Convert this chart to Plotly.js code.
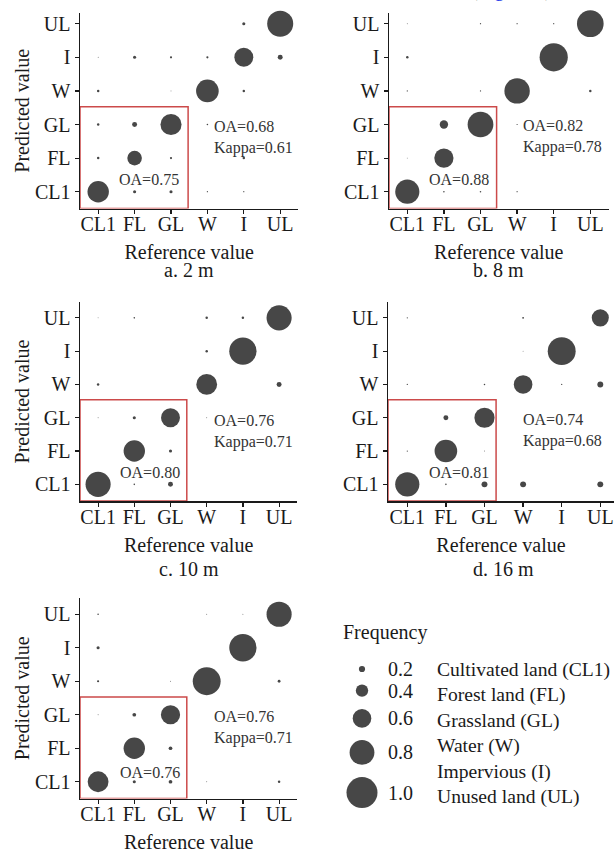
<!DOCTYPE html>
<html><head><meta charset="utf-8">
<script src="https://cdn.plot.ly/plotly-3.0.1.min.js"></script>
<style>html,body{margin:0;padding:0;background:#fff}#chart{width:614px;height:853px}</style>
</head><body><div id="chart"></div>
<script>
const categories = ['CL1','FL','GL','W','I','UL'];
// rows = predicted class (CL1..UL, bottom to top), columns = reference class (CL1..UL)
const freq2m = [
  [0.69, 0.10, 0.10, 0.04, 0.04, 0],
  [0.08, 0.47, 0.07, 0, 0.08, 0],
  [0.08, 0.16, 0.68, 0.05, 0, 0],
  [0.08, 0, 0.03, 0.73, 0.08, 0],
  [0.03, 0.10, 0.07, 0.07, 0.61, 0.16],
  [0, 0, 0, 0, 0.10, 0.84]
];
const freq8m = [
  [0.78, 0.05, 0.05, 0.04, 0, 0],
  [0.03, 0.62, 0, 0, 0, 0],
  [0, 0.27, 0.83, 0.04, 0, 0],
  [0.04, 0, 0.04, 0.82, 0, 0.08],
  [0.08, 0, 0, 0, 0.91, 0],
  [0.03, 0, 0.04, 0.04, 0.04, 0.86]
];
const freq10m = [
  [0.81, 0.05, 0.16, 0, 0, 0],
  [0, 0.69, 0.10, 0, 0, 0],
  [0.03, 0.10, 0.61, 0.03, 0, 0],
  [0.08, 0, 0, 0.67, 0, 0.16],
  [0, 0, 0, 0.08, 0.88, 0],
  [0.03, 0.05, 0, 0.08, 0.08, 0.81]
];
const freq16m = [
  [0.78, 0.05, 0.19, 0.19, 0, 0.19],
  [0.04, 0.73, 0.03, 0, 0, 0],
  [0, 0.16, 0.65, 0, 0, 0],
  [0.04, 0, 0.05, 0.60, 0.04, 0.19],
  [0, 0, 0, 0.03, 0.90, 0],
  [0.04, 0, 0, 0.06, 0, 0.55]
];
const freqE = [
  [0.67, 0.10, 0.12, 0.03, 0, 0.08],
  [0, 0.69, 0.12, 0, 0, 0],
  [0.03, 0.12, 0.62, 0, 0, 0],
  [0.07, 0, 0.03, 0.90, 0, 0.09],
  [0.10, 0, 0, 0, 0.88, 0],
  [0.05, 0, 0, 0.03, 0.03, 0.81]
];
const panelNames = ['a. 2 m', 'b. 8 m', 'c. 10 m', 'd. 16 m', ''];
const oaInner = ['0.75', '0.88', '0.80', '0.81', '0.76'];
const oaOverall = ['0.68', '0.82', '0.76', '0.74', '0.76'];
const kappaValues = ['0.61', '0.78', '0.71', '0.68', '0.71'];
const legendValues = [0.2, 0.4, 0.6, 0.8, 1.0];
const legendClassNames = ['Cultivated land (CL1)', 'Forest land (FL)', 'Grassland (GL)', 'Water (W)', 'Impervious (I)', 'Unused land (UL)'];

const matrices = [freq2m, freq8m, freq10m, freq16m, freqE];

// ---------- layout geometry (pixels) ----------
const W = 614, H = 853;
const FONT = 'Liberation Serif, Times New Roman, serif';
const DOT = '#474747';
const INK = '#1a1a1a';
const RED = '#cc4a4a';
const PX_PER_UNIT = 31; // marker diameter (px) for frequency 1.0
const geom = [
  {left: 80,  px: 36.4, top: 13,  bottom: 208.5, py: 33.6, boxX: 2.47, boxY: 2.53, ytitle: true,  labelOff: 61, inner: [1.40, 0.36], overall: [3.13, 1.62]},
  {left: 389, px: 36.6, top: 13,  bottom: 208.5, py: 33.6, boxX: 2.44, boxY: 2.53, ytitle: false, labelOff: 61, inner: [1.41, 0.36], overall: [3.11, 1.64]},
  {left: 80,  px: 36.2, top: 302, bottom: 501,   py: 33.3, boxX: 2.45, boxY: 2.54, ytitle: true,  labelOff: 68, inner: [1.44, 0.35], overall: [3.14, 1.60]},
  {left: 388, px: 38.6, top: 302, bottom: 501,   py: 33.3, boxX: 2.30, boxY: 2.54, ytitle: false, labelOff: 68, inner: [1.35, 0.36], overall: [2.95, 1.61]},
  {left: 80,  px: 36.2, top: 598, bottom: 798.5, py: 33.5, boxX: 2.45, boxY: 2.53, ytitle: true,  labelOff: 0,  inner: [1.44, 0.28], overall: [3.14, 1.62]}
];

const traces = [];
const layout = {
  width: W, height: H,
  margin: {l: 0, r: 0, t: 0, b: 0},
  paper_bgcolor: '#fff', plot_bgcolor: 'rgba(0,0,0,0)',
  showlegend: false,
  font: {family: FONT, size: 20, color: INK},
  annotations: [], shapes: []
};

matrices.forEach((m, k) => {
  const g = geom[k];
  const idx = k === 0 ? '' : String(k + 1);
  const xs = [], ys = [], ss = [];
  m.forEach((row, r) => row.forEach((v, c) => {
    if (v > 0) { xs.push(c); ys.push(r); ss.push(v); }
  }));
  traces.push({
    type: 'scatter', mode: 'markers', x: xs, y: ys,
    xaxis: 'x' + idx, yaxis: 'y' + idx, cliponaxis: false, hoverinfo: 'skip',
    marker: {size: ss, sizemode: 'diameter', sizeref: 1 / PX_PER_UNIT, color: DOT, opacity: 1, line: {width: 0}}
  });
  const right = Math.min(W, g.left + 6 * g.px);
  const xmax = -0.5 + (right - g.left) / g.px;
  const ymax = -0.5 + (g.bottom - g.top) / g.py;
  const axCommon = {
    showgrid: false, zeroline: false, showline: true, linecolor: INK, linewidth: 1.5,
    ticks: 'outside', ticklen: 4, tickwidth: 1.2, tickcolor: INK,
    tickmode: 'array', tickvals: categories.map((_, i) => i), ticktext: categories,
    tickfont: {family: FONT, size: 20, color: INK}, fixedrange: true
  };
  layout['xaxis' + idx] = Object.assign({}, axCommon, {
    domain: [g.left / W, right / W], range: [-0.5, xmax], anchor: 'y' + idx,
    ticklabelstandoff: -7,
    title: {text: 'Reference value', font: {family: FONT, size: 20, color: INK}, standoff: 11}
  });
  layout['yaxis' + idx] = Object.assign({}, axCommon, {
    domain: [1 - g.bottom / H, 1 - g.top / H], range: [-0.5, ymax], anchor: 'x' + idx,
    title: g.ytitle ? {text: 'Predicted value', font: {family: FONT, size: 20, color: INK}, standoff: 0} : {text: ''}
  });
  // red box around the vegetation classes
  layout.shapes.push({
    type: 'rect', xref: 'x' + idx, yref: 'y' + idx, layer: 'below',
    x0: -0.5, x1: g.boxX, y0: -0.5, y1: g.boxY,
    line: {color: RED, width: 1.5}, fillcolor: 'rgba(0,0,0,0)'
  });
  layout.annotations.push({
    xref: 'x' + idx, yref: 'y' + idx, x: g.inner[0], y: g.inner[1],
    text: 'OA=' + oaInner[k], showarrow: false, xanchor: 'center', yanchor: 'middle',
    font: {family: FONT, size: 16, color: '#333'}
  });
  layout.annotations.push({
    xref: 'x' + idx, yref: 'y' + idx, x: g.overall[0], y: g.overall[1],
    text: 'OA=' + oaOverall[k] + '<br>Kappa=' + kappaValues[k], showarrow: false,
    xanchor: 'left', yanchor: 'middle', align: 'left',
    font: {family: FONT, size: 16, color: '#333'}
  });
  if (panelNames[k]) {
    layout.annotations.push({
      xref: 'paper', yref: 'paper', x: (g.left + (g.left + 6 * g.px)) / 2 / W,
      y: 1 - (g.bottom + g.labelOff) / H, text: panelNames[k], showarrow: false,
      xanchor: 'center', yanchor: 'middle', font: {family: FONT, size: 20, color: INK}
    });
  }
});

// ---------- size legend on a hidden pixel-space axis ----------
layout.xaxis6 = {domain: [0, 1], range: [0, W], visible: false, fixedrange: true};
layout.yaxis6 = {domain: [0, 1], range: [H, 0], visible: false, fixedrange: true, anchor: 'x6'};
const legY = [];
legendValues.forEach((v, i) => {
  if (i === 0) legY.push(669);
  else legY.push(legY[i - 1] + (legendValues[i - 1] + v) * PX_PER_UNIT / 2 + 12.3);
});
traces.push({
  type: 'scatter', mode: 'markers', xaxis: 'x6', yaxis: 'y6', hoverinfo: 'skip', cliponaxis: false,
  x: legendValues.map(() => 362), y: legY,
  marker: {size: legendValues, sizemode: 'diameter', sizeref: 1 / PX_PER_UNIT, color: DOT, opacity: 1, line: {width: 0}}
});
legendValues.forEach((v, i) => {
  layout.annotations.push({
    xref: 'x6', yref: 'y6', x: 386, y: legY[i], text: v.toFixed(1), showarrow: false,
    xanchor: 'left', yanchor: 'middle', font: {family: FONT, size: 20, color: INK}
  });
});
layout.annotations.push({
  xref: 'x6', yref: 'y6', x: 341, y: 632, text: 'Frequency', showarrow: false,
  xanchor: 'left', yanchor: 'middle', font: {family: FONT, size: 20, color: INK}
});
legendClassNames.forEach((t, i) => {
  layout.annotations.push({
    xref: 'x6', yref: 'y6', x: 435, y: 670 + i * 25.4, text: t, showarrow: false,
    xanchor: 'left', yanchor: 'middle', font: {family: FONT, size: 19.6, color: INK}
  });
});
// cropped caption reference at the very top (mostly above the picture edge)
layout.annotations.push({
  xref: 'paper', yref: 'paper', x: 469 / W, y: 1 + 11 / H, text: '(<span style="color:#1a35e8">Figure 5</span>)',
  showarrow: false, xanchor: 'left', yanchor: 'middle', font: {family: FONT, size: 20, color: INK}
});

Plotly.newPlot('chart', traces, layout, {staticPlot: true, displayModeBar: false});
</script></body></html>
